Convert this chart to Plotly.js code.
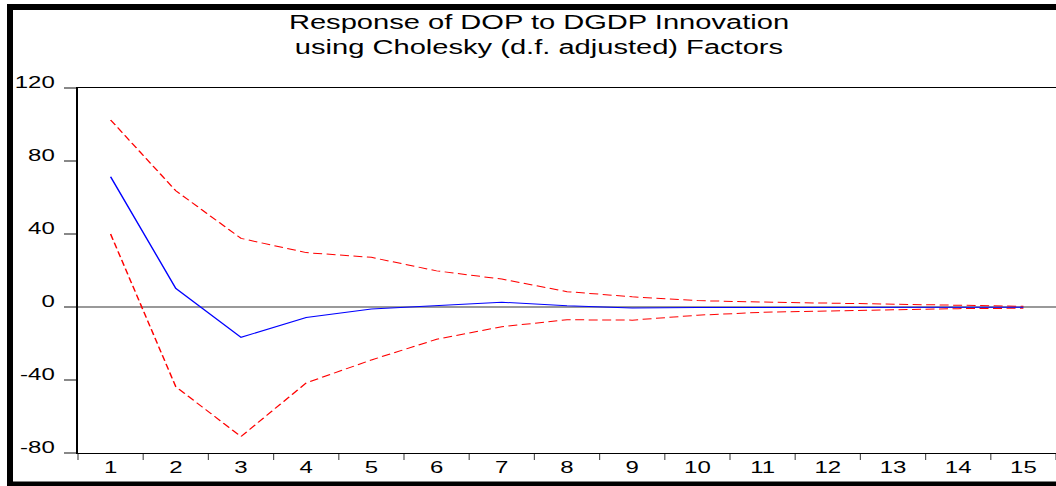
<!DOCTYPE html>
<html>
<head>
<meta charset="utf-8">
<script src="https://cdn.plot.ly/plotly-3.0.1.min.js"></script>
<style>
html,body{margin:0;padding:0;background:#fff;overflow:hidden;}
#wrap{width:1056px;height:486px;overflow:hidden;position:relative;}
#chart{width:704px;height:486px;transform:scaleX(1.5);transform-origin:0 0;}
</style>
</head>
<body>
<div id="wrap"><div id="chart"></div></div>
<script>
const periods = ['1','2','3','4','5','6','7','8','9','10','11','12','13','14','15'];
const response = [71.4, 10.2, -16.6, -5.8, -1.1, 0.7, 2.6, 0.7, -0.5, -0.3, -0.3, -0.2, -0.2, -0.1, -0.1];
const upperBand = [102.5, 63.7, 37.6, 29.8, 27.2, 19.8, 15.3, 8.4, 5.6, 3.5, 2.7, 2.2, 1.5, 0.9, 0.4];
const lowerBand = [40, -43.7, -71, -41.6, -29, -17.7, -10.8, -7.0, -7.2, -4.5, -2.9, -2.0, -1.5, -0.9, -0.7];
const yTicks = [-80, -40, 0, 40, 80, 120];
const titleText = 'Response of DOP to DGDP Innovation<br>using Cholesky (d.f. adjusted) Factors';

const FONT = 'Liberation Sans, Arial, sans-serif';
const S = 1.5; // horizontal stretch of the reference picture
const W = 1056 / S, H = 486;

// plot area in final pixels: x 78..1056, y 88..453
const PL = 78 / S, PR = 1056 / S, PT = 88, PB = 453;
const px = v => (v / S - PL) / (PR - PL);
const py = v => (PB - v) / (PB - PT);

const traces = [
  {x: periods, y: upperBand, type: 'scatter', mode: 'lines',
   line: {color: '#ff0000', width: 1, dash: '6px,3px'}, hoverinfo: 'skip'},
  {x: periods, y: lowerBand, type: 'scatter', mode: 'lines',
   line: {color: '#ff0000', width: 1, dash: '6px,3px'}, hoverinfo: 'skip'},
  {x: periods, y: response, type: 'scatter', mode: 'lines',
   line: {color: '#0000ff', width: 1}, hoverinfo: 'skip'}
];

const layout = {
  width: W, height: H,
  margin: {l: PL, r: W - PR, t: PT, b: H - PB, pad: 0},
  paper_bgcolor: '#ffffff', plot_bgcolor: '#ffffff',
  showlegend: false,
  font: {family: FONT, color: '#000', size: 16},
  title: {
    text: titleText,
    font: {family: FONT, size: 19.4, color: '#000'},
    xref: 'paper', x: px(539), xanchor: 'center',
    yref: 'container', y: 1 - 29/486, yanchor: 'top'
  },
  xaxis: {
    type: 'category',
    range: [-0.5, 14.5],
    tickson: 'boundaries',
    ticks: 'outside', ticklen: 6, tickwidth: 0.8, tickcolor: '#555',
    showline: true, linecolor: '#000', linewidth: 1, mirror: true,
    showgrid: false, zeroline: false,
    tickfont: {family: FONT, size: 16, color: '#000'},
    fixedrange: true
  },
  yaxis: {
    range: [-80, 120],
    tickvals: yTicks,
    ticktext: yTicks.map(String),
    ticks: 'outside', ticklen: 8, tickwidth: 1.5, tickcolor: '#888',
    showline: true, linecolor: '#000', linewidth: 1.3,
    showgrid: false,
    zeroline: true, zerolinecolor: '#999', zerolinewidth: 1.8,
    tickfont: {family: FONT, size: 16, color: '#000'},
    ticklabelstandoff: 3,
    ticklabelshift: -6,
    fixedrange: true
  },
  shapes: [
    {type: 'rect', xref: 'paper', yref: 'paper', x0: px(7), x1: px(13), y0: py(486), y1: py(4),
     fillcolor: '#000', line: {width: 0}, layer: 'above'},
    {type: 'rect', xref: 'paper', yref: 'paper', x0: px(7), x1: px(1060), y0: py(10), y1: py(4),
     fillcolor: '#000', line: {width: 0}, layer: 'above'},
    {type: 'rect', xref: 'paper', yref: 'paper', x0: px(7), x1: px(1060), y0: py(486), y1: py(481.5),
     fillcolor: '#000', line: {width: 0}, layer: 'above'}
  ]
};

Plotly.newPlot('chart', traces, layout, {displayModeBar: false, staticPlot: true});
</script>
</body>
</html>
